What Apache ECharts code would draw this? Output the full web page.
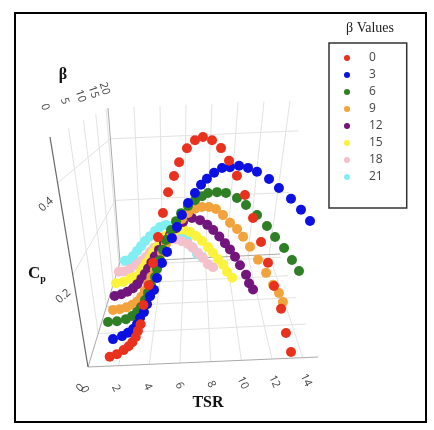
<!DOCTYPE html>
<html>
<head>
<meta charset="utf-8">
<script src="https://cdn.jsdelivr.net/npm/echarts@6/dist/echarts.min.js"></script>
<style>
html,body{margin:0;padding:0;background:#fff;}
#chart{width:434px;height:430px;}
</style>
</head>
<body>
<div id="chart"></div>
<script>
// ---------------- data ----------------
const betaValues = [0,3,6,9,12,15,18,21];
const tsrBeta0 = [1.49,1.97,2.42,2.76,3.01,3.25,3.41,3.60,3.84,4.21,4.50,4.82,5.11,5.39,5.69,5.94,6.31,6.68,7.05,7.48,7.92,8.34,8.78,9.26,9.79,10.36,10.89,11.42,12.05,12.61,13.16];
const cpBeta0  = [0.020,0.025,0.033,0.041,0.049,0.060,0.073,0.087,0.128,0.170,0.217,0.272,0.323,0.367,0.401,0.430,0.459,0.475,0.481,0.473,0.455,0.427,0.394,0.352,0.302,0.250,0.205,0.155,0.106,0.054,0.013];
const tsrBeta3 = [1.34,1.98,2.40,2.77,3.06,3.29,3.57,3.80,4.02,4.29,4.51,4.84,5.16,5.46,5.76,6.04,6.38,6.75,7.07,7.38,7.75,8.16,8.58,9.06,9.55,10.05,10.75,11.36,12.12,12.79,13.43];
const cpBeta3  = [0.014,0.020,0.027,0.035,0.046,0.060,0.073,0.091,0.109,0.123,0.150,0.184,0.209,0.240,0.265,0.292,0.319,0.341,0.359,0.372,0.385,0.395,0.396,0.398,0.392,0.382,0.364,0.342,0.316,0.290,0.263];
const tsrBeta6 = [0.64,1.30,1.96,2.42,2.80,3.11,3.42,3.66,3.89,4.19,4.34,4.56,4.77,4.98,5.31,5.63,5.94,6.36,6.78,7.20,7.55,8.09,8.63,9.32,9.91,10.66,11.37,11.99,12.69,13.35,13.97];
const cpBeta6  = [0.013,0.014,0.018,0.025,0.034,0.046,0.063,0.080,0.099,0.118,0.138,0.159,0.184,0.208,0.232,0.253,0.272,0.289,0.302,0.311,0.318,0.319,0.316,0.302,0.284,0.258,0.230,0.202,0.174,0.144,0.116];
const tsrBeta9 = [0.64,1.16,1.69,2.16,2.56,2.89,3.18,3.45,3.72,3.99,4.25,4.55,4.84,5.20,5.55,5.95,6.35,6.81,7.27,7.74,8.21,8.71,9.22,9.74,10.21,10.77,11.46,12.18,12.84,13.39,13.82];
const cpBeta9  = [0.003,0.004,0.008,0.014,0.022,0.034,0.050,0.067,0.085,0.102,0.123,0.146,0.169,0.189,0.212,0.232,0.247,0.257,0.261,0.260,0.254,0.237,0.216,0.199,0.178,0.151,0.116,0.081,0.049,0.027,0.003];
const tsrBeta12 = [0.44,1.00,1.50,1.98,2.35,2.70,2.99,3.27,3.55,3.83,4.17,4.56,5.02,5.47,5.98,6.63,7.22,7.77,8.23,8.71,9.17,9.59,10.03,10.48,11.04,11.36,11.75];
const cpBeta12  = [0.002,0.006,0.012,0.021,0.032,0.046,0.059,0.074,0.090,0.106,0.124,0.143,0.164,0.182,0.198,0.208,0.201,0.187,0.172,0.153,0.134,0.116,0.095,0.071,0.044,0.020,0.002];
const tsrBeta15 = [0.24,0.85,1.47,1.91,2.35,2.62,2.90,3.24,3.51,3.85,4.18,4.59,5.08,5.55,6.03,6.51,7.00,7.49,8.00,8.44,8.88,9.34,9.72,10.20];
const cpBeta15  = [0.002,0.005,0.013,0.018,0.029,0.043,0.057,0.071,0.086,0.103,0.120,0.134,0.144,0.150,0.149,0.142,0.129,0.114,0.095,0.077,0.059,0.041,0.020,0.002];
const tsrBeta18 = [0.20,0.65,1.20,1.76,2.22,2.68,3.05,3.41,3.85,4.29,4.80,5.32,5.83,6.36,6.80,7.25,7.71,8.17,8.64];
const cpBeta18  = [0.002,0.002,0.009,0.020,0.032,0.043,0.058,0.070,0.082,0.090,0.095,0.094,0.087,0.077,0.064,0.048,0.032,0.012,0.002];
const tsrBeta21 = [0.47,0.84,1.25,1.64,2.04,2.42,2.89,3.36,3.81,4.35,4.89,5.34,5.79,6.25,6.73,7.21,7.70];
const cpBeta21  = [0.003,0.004,0.017,0.033,0.048,0.064,0.079,0.095,0.107,0.113,0.108,0.098,0.081,0.061,0.037,0.014,0.003];

const tsrSeries = [tsrBeta0,tsrBeta3,tsrBeta6,tsrBeta9,tsrBeta12,tsrBeta15,tsrBeta18,tsrBeta21];
const cpSeries  = [cpBeta0,cpBeta3,cpBeta6,cpBeta9,cpBeta12,cpBeta15,cpBeta18,cpBeta21];
const seriesNames = ['0','3','6','9','12','15','18','21'];
const seriesColors = ['#e8321e','#0c10e0','#2f7f25','#f2a33c','#72157d','#fbf23c','#f4c0cb','#80eef2'];

const tsrTicks = [0,2,4,6,8,10,12,14];
const betaTicks = [0,5,10,15,20];
const cpTicks = [0,0.2,0.4];
const tsrGrid = [2,4,6,8,10,12,14];
const betaGrid = [5,10,15,20];
const cpGrid = [0.2,0.4];

// ---------------- 3D scene ----------------
const RANGE = {tsr:[0,15], beta:[0,21], cp:[0,0.5]};
const DEPTH_RATIO = 1.5;     // perspective: back depth / front depth
// page positions of the 8 corners of the axis box, key = [tsr, beta, cp] (0/1)
const BOX = {
  '000':[88,367], '100':[318,357], '001':[50,137], '101':[376,118],
  '010':[120,262],'110':[280,254], '011':[108,108],'111':[303,100]
};
function project(t, b, c){
  const X=(t-RANGE.tsr[0])/(RANGE.tsr[1]-RANGE.tsr[0]);
  const Y=(b-RANGE.beta[0])/(RANGE.beta[1]-RANGE.beta[0]);
  const Z=(c-RANGE.cp[0])/(RANGE.cp[1]-RANGE.cp[0]);
  const D=(Y*DEPTH_RATIO)/((1-Y)+Y*DEPTH_RATIO);
  let u=0,v=0;
  for(const i of [0,1]) for(const j of [0,1]) for(const k of [0,1]){
    const w=(i?X:1-X)*(j?D:1-D)*(k?Z:1-Z);
    const p=BOX[''+i+j+k];
    u+=w*p[0]; v+=w*p[1];
  }
  return [u,v];
}
const T1=RANGE.tsr[1], B1=RANGE.beta[1], C1=RANGE.cp[1];

const gridLines=[];
const seg=(a,b)=>gridLines.push({coords:[project(...a),project(...b)]});
tsrGrid.forEach(t=>{ seg([t,0,0],[t,B1,0]); seg([t,B1,0],[t,B1,C1]); });
betaGrid.forEach(b=>{ seg([0,b,0],[T1,b,0]); seg([0,b,0],[0,b,C1]); });
cpGrid.forEach(c=>{ seg([0,0,c],[0,B1,c]); seg([0,B1,c],[T1,B1,c]); });
const zeroLines=[];
const zseg=(a,b)=>zeroLines.push({coords:[project(...a),project(...b)]});
zseg([0,0,0],[T1,0,0]);
zseg([0,B1,0],[T1,B1,0]);
zseg([0,0,0],[0,B1,0]);
zseg([0,B1,0],[0,B1,C1]);
const frontAxis=[{coords:[project(0,0,0),project(0,0,C1)]}];

const tickLabels=[];
tsrTicks.forEach(t=>tickLabels.push({p:project(t,-2,-0.014),text:String(t),rot:-65}));
cpTicks.forEach(c=>tickLabels.push({p:project(-0.75,0,c-0.045),text:String(c),rot:42}));
betaTicks.forEach(b=>tickLabels.push({p:project(0,b,C1+0.065),text:String(b),rot:-72}));

// ---------------- chart ----------------
const chart = echarts.init(document.getElementById('chart'), null, {renderer:'canvas'});
const series=[];
series.push({type:'lines',coordinateSystem:'cartesian2d',polyline:false,silent:true,z:1,
  lineStyle:{color:'#e3e3e3',width:1,opacity:1},data:gridLines});
series.push({type:'lines',coordinateSystem:'cartesian2d',polyline:false,silent:true,z:1,
  lineStyle:{color:'#aaaaaa',width:1,opacity:1},data:zeroLines});
series.push({type:'lines',coordinateSystem:'cartesian2d',polyline:false,silent:true,z:1,
  lineStyle:{color:'#666666',width:1.2,opacity:1},data:frontAxis});
for(let k=betaValues.length-1;k>=0;k--){
  const b=betaValues[k], vals=cpSeries[k], xs=tsrSeries[k];
  series.push({type:'scatter',name:seriesNames[k],z:2+(betaValues.length-k),
    symbol:'circle',symbolSize:10,
    itemStyle:{color:seriesColors[k],opacity:1},
    data:vals.map((c,i)=>project(xs[i],b,c))});
}
series.push({type:'custom',coordinateSystem:'cartesian2d',silent:true,z:20,
  data:tickLabels.map(d=>d.p),
  renderItem:(params,api)=>{
    const d=tickLabels[params.dataIndex];
    const pt=api.coord([api.value(0),api.value(1)]);
    return {type:'text',x:pt[0],y:pt[1],rotation:d.rot*Math.PI/180,
      style:{text:d.text,fill:'#444',font:'11px "Open Sans"',align:'center',verticalAlign:'middle'}};
  }});

chart.setOption({
  animation:false,
  backgroundColor:'#fff',
  grid:{left:0,top:0,right:0,bottom:0},
  xAxis:{type:'value',min:0,max:434,show:false},
  yAxis:{type:'value',min:0,max:430,inverse:true,show:false},
  legend:{data:seriesNames,orient:'vertical',left:329,top:43,
    padding:[8,24,24,15],itemWidth:6,itemHeight:6,itemGap:3,icon:'circle',
    borderColor:'#333',borderWidth:1.5,
    textStyle:{fontFamily:'Open Sans',fontSize:12,color:'#444',lineHeight:14,padding:[0,0,0,14]}},
  graphic:[
    {type:'rect',shape:{x:15,y:13,width:411,height:409},style:{fill:'none',stroke:'#000',lineWidth:2},z:100},
    {type:'text',x:370,y:28,style:{text:'β Values',font:'14px "Liberation Serif"',fill:'#222',align:'center',verticalAlign:'middle'}},
    {type:'text',x:63,y:75,style:{text:'β',font:'bold 16px "Liberation Serif"',fill:'#111',align:'center',verticalAlign:'middle'}},
    {type:'text',x:208,y:403,style:{text:'TSR',font:'bold 16px "Liberation Serif"',fill:'#111',align:'center',verticalAlign:'middle'}},
    {type:'text',x:28,y:274,style:{text:'{c|C}{p|p}',rich:{c:{font:'bold 17px "Liberation Serif"',fill:'#111'},p:{font:'bold 10px "Liberation Serif"',fill:'#111',padding:[10,0,0,0]}},verticalAlign:'middle'}}
  ],
  series:series
});
</script>
</body>
</html>
